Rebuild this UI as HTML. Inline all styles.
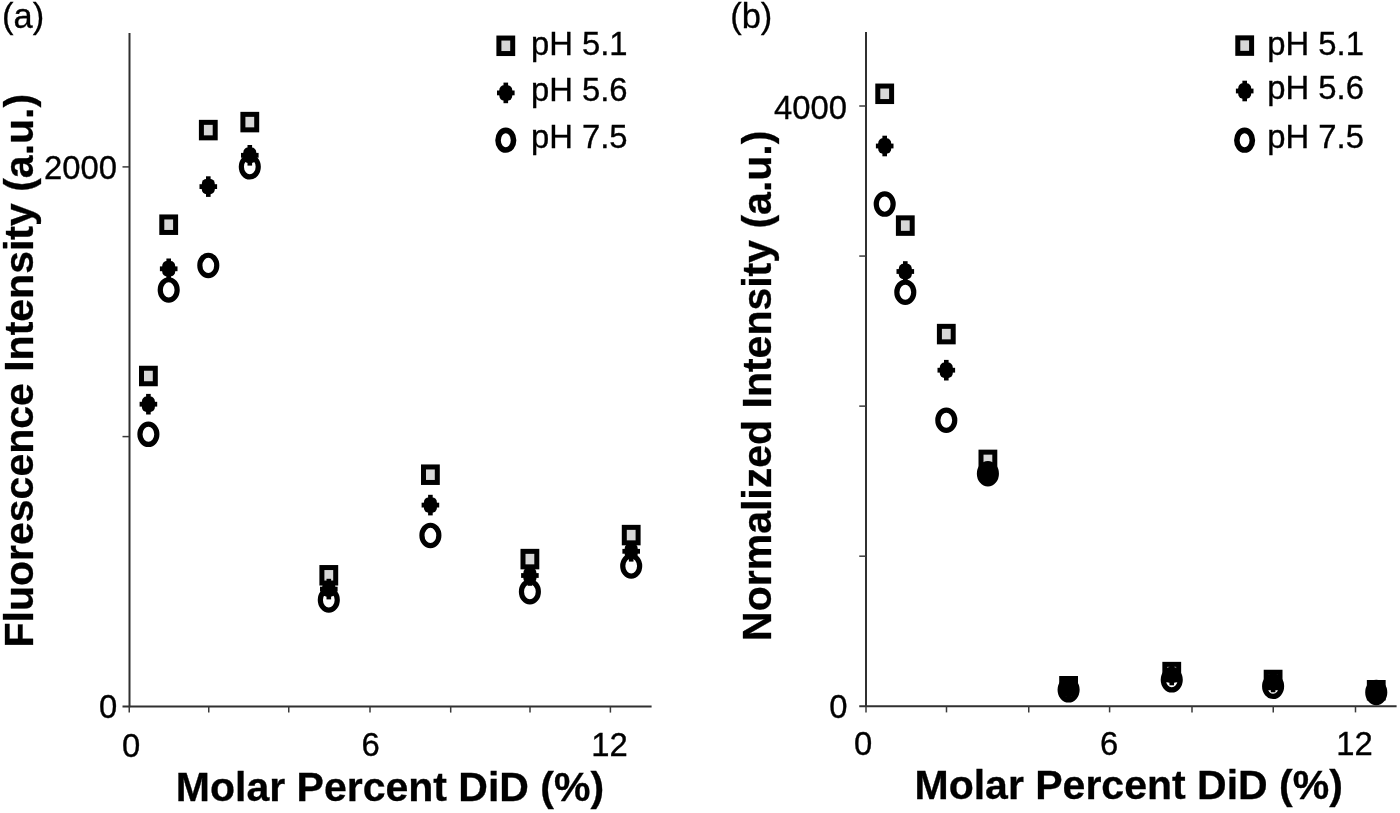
<!DOCTYPE html>
<html lang="en">
<head>
<meta charset="utf-8">
<title>Fluorescence intensity vs molar percent DiD</title>
<style>
html,body{margin:0;padding:0;background:#fff;}
body{width:1400px;height:813px;overflow:hidden;}
svg{display:block;}
text{font-family:'Liberation Sans',Arial,Helvetica,sans-serif;fill:#000;}
.t{font-size:32.8px;stroke:#000;stroke-width:0.35px;}
.n{letter-spacing:0;}
.l{word-spacing:0;}
.p{font-size:34.5px;stroke:#000;stroke-width:0.3px;}
.b{font-size:41px;font-weight:bold;stroke:#000;stroke-width:0.3px;}
.ax line{stroke:#303030;stroke-width:2;}
.ax line.k{stroke:#3a3a3a;stroke-width:1.5;}
</style>
</head>
<body>
<svg width="1400" height="813" viewBox="0 0 1400 813">
<rect width="1400" height="813" fill="#fff"/>

<g class="ax">
<line x1="129.50" y1="33.00" x2="129.50" y2="707.25"/>
<line x1="122.50" y1="706.50" x2="651.60" y2="706.50"/>
<line class="k" x1="122.50" y1="166.90" x2="129.00" y2="166.90"/>
<line class="k" x1="122.50" y1="436.60" x2="129.00" y2="436.60"/>
<line class="k" x1="129.25" y1="706.50" x2="129.25" y2="712.60"/>
<line class="k" x1="208.75" y1="706.50" x2="208.75" y2="712.60"/>
<line class="k" x1="288.75" y1="706.50" x2="288.75" y2="712.60"/>
<line class="k" x1="370.00" y1="706.50" x2="370.00" y2="712.60"/>
<line class="k" x1="450.70" y1="706.50" x2="450.70" y2="712.60"/>
<line class="k" x1="530.00" y1="706.50" x2="530.00" y2="712.60"/>
<line class="k" x1="610.40" y1="706.50" x2="610.40" y2="712.60"/>
</g>
<rect x="141.50" y="368.25" width="13.8" height="15.5" fill="#d8d8d8" stroke="#000" stroke-width="5"/>
<rect x="161.80" y="216.95" width="13.8" height="15.5" fill="#d8d8d8" stroke="#000" stroke-width="5"/>
<rect x="201.40" y="122.35" width="13.8" height="15.5" fill="#d8d8d8" stroke="#000" stroke-width="5"/>
<rect x="242.90" y="114.35" width="13.8" height="15.5" fill="#d8d8d8" stroke="#000" stroke-width="5"/>
<rect x="321.90" y="567.55" width="13.8" height="15.5" fill="#d8d8d8" stroke="#000" stroke-width="5"/>
<rect x="423.50" y="466.95" width="13.8" height="15.5" fill="#d8d8d8" stroke="#000" stroke-width="5"/>
<rect x="523.00" y="551.35" width="13.8" height="15.5" fill="#d8d8d8" stroke="#000" stroke-width="5"/>
<rect x="624.30" y="527.35" width="13.8" height="15.5" fill="#d8d8d8" stroke="#000" stroke-width="5"/>
<g fill="#000"><rect x="146.10" y="393.90" width="4.6" height="20.6"/><rect x="139.60" y="401.80" width="17.6" height="4.8"/><rect x="141.90" y="396.50" width="13" height="15.4" rx="4.6" ry="5"/></g>
<g fill="#000"><rect x="166.40" y="258.50" width="4.6" height="20.6"/><rect x="159.90" y="266.40" width="17.6" height="4.8"/><rect x="162.20" y="261.10" width="13" height="15.4" rx="4.6" ry="5"/></g>
<g fill="#000"><rect x="206.00" y="176.30" width="4.6" height="20.6"/><rect x="199.50" y="184.20" width="17.6" height="4.8"/><rect x="201.80" y="178.90" width="13" height="15.4" rx="4.6" ry="5"/></g>
<g fill="#000"><rect x="247.50" y="145.00" width="4.6" height="20.6"/><rect x="241.00" y="152.90" width="17.6" height="4.8"/><rect x="243.30" y="147.60" width="13" height="15.4" rx="4.6" ry="5"/></g>
<g fill="#000"><rect x="326.50" y="578.80" width="4.6" height="20.6"/><rect x="320.00" y="586.70" width="17.6" height="4.8"/><rect x="322.30" y="581.40" width="13" height="15.4" rx="4.6" ry="5"/></g>
<g fill="#000"><rect x="428.10" y="494.80" width="4.6" height="20.6"/><rect x="421.60" y="502.70" width="17.6" height="4.8"/><rect x="423.90" y="497.40" width="13" height="15.4" rx="4.6" ry="5"/></g>
<g fill="#000"><rect x="527.60" y="565.20" width="4.6" height="20.6"/><rect x="521.10" y="573.10" width="17.6" height="4.8"/><rect x="523.40" y="567.80" width="13" height="15.4" rx="4.6" ry="5"/></g>
<g fill="#000"><rect x="628.90" y="541.00" width="4.6" height="20.6"/><rect x="622.40" y="548.90" width="17.6" height="4.8"/><rect x="624.70" y="543.60" width="13" height="15.4" rx="4.6" ry="5"/></g>
<ellipse cx="148.40" cy="434.30" rx="8.45" ry="10.15" fill="none" stroke="#000" stroke-width="5.2"/>
<ellipse cx="168.70" cy="289.90" rx="8.45" ry="10.15" fill="none" stroke="#000" stroke-width="5.2"/>
<ellipse cx="208.30" cy="265.40" rx="8.45" ry="10.15" fill="none" stroke="#000" stroke-width="5.2"/>
<ellipse cx="249.80" cy="166.80" rx="8.45" ry="10.15" fill="none" stroke="#000" stroke-width="5.2"/>
<ellipse cx="328.80" cy="599.90" rx="8.45" ry="10.15" fill="none" stroke="#000" stroke-width="5.2"/>
<ellipse cx="430.40" cy="535.40" rx="8.45" ry="10.15" fill="none" stroke="#000" stroke-width="5.2"/>
<ellipse cx="529.90" cy="591.70" rx="8.45" ry="10.15" fill="none" stroke="#000" stroke-width="5.2"/>
<ellipse cx="631.20" cy="566.00" rx="8.45" ry="10.15" fill="none" stroke="#000" stroke-width="5.2"/>
<text class="p" x="2.1" y="28.2">(a)</text>
<text class="t n" x="44.1" y="179.3">2000</text>
<text class="t" x="117.3" y="718" text-anchor="end">0</text>
<text class="t" x="131" y="756.5" text-anchor="middle">0</text>
<text class="t" x="370.5" y="756" text-anchor="middle">6</text>
<text class="t" x="609.6" y="756" text-anchor="middle">12</text>
<text class="b" x="175.8" y="801.2">Molar Percent DiD (%)</text>
<text class="b" transform="translate(32.8 647.5) rotate(-90)">Fluorescence Intensity (a.u.)</text>
<rect x="498.90" y="38.05" width="13.8" height="15.5" fill="#d8d8d8" stroke="#000" stroke-width="5"/>
<g fill="#000"><rect x="503.50" y="82.60" width="4.6" height="20.6"/><rect x="497.00" y="90.50" width="17.6" height="4.8"/><rect x="499.30" y="85.20" width="13" height="15.4" rx="4.6" ry="5"/></g>
<ellipse cx="505.80" cy="140.20" rx="7.75" ry="9.85" fill="none" stroke="#000" stroke-width="5.6"/>
<text class="t l" x="530.9" y="54.8">pH 5.1</text>
<text class="t l" x="530.9" y="101.0">pH 5.6</text>
<text class="t l" x="530.9" y="147.8">pH 7.5</text>
<g class="ax">
<line x1="866.00" y1="32.00" x2="866.00" y2="707.00"/>
<line x1="859.25" y1="706.25" x2="1396.60" y2="706.25"/>
<line class="k" x1="859.25" y1="556.19" x2="866.00" y2="556.19"/>
<line class="k" x1="859.25" y1="406.13" x2="866.00" y2="406.13"/>
<line class="k" x1="859.25" y1="256.07" x2="866.00" y2="256.07"/>
<line class="k" x1="859.25" y1="106.01" x2="866.00" y2="106.01"/>
<line class="k" x1="866.00" y1="706.25" x2="866.00" y2="712.40"/>
<line class="k" x1="946.50" y1="706.25" x2="946.50" y2="712.40"/>
<line class="k" x1="1028.75" y1="706.25" x2="1028.75" y2="712.40"/>
<line class="k" x1="1109.60" y1="706.25" x2="1109.60" y2="712.40"/>
<line class="k" x1="1192.00" y1="706.25" x2="1192.00" y2="712.40"/>
<line class="k" x1="1273.25" y1="706.25" x2="1273.25" y2="712.40"/>
<line class="k" x1="1355.50" y1="706.25" x2="1355.50" y2="712.40"/>
</g>
<rect x="877.80" y="86.05" width="13.8" height="15.5" fill="#d8d8d8" stroke="#000" stroke-width="5"/>
<rect x="898.40" y="217.85" width="13.8" height="15.5" fill="#d8d8d8" stroke="#000" stroke-width="5"/>
<rect x="939.40" y="326.35" width="13.8" height="15.5" fill="#d8d8d8" stroke="#000" stroke-width="5"/>
<rect x="981.00" y="452.15" width="13.8" height="15.5" fill="#d8d8d8" stroke="#000" stroke-width="5"/>
<rect x="1061.70" y="678.50" width="13.8" height="15.5" fill="#d8d8d8" stroke="#000" stroke-width="5"/>
<rect x="1164.85" y="664.35" width="13.8" height="15.5" fill="#d8d8d8" stroke="#000" stroke-width="5"/>
<rect x="1266.20" y="672.25" width="13.8" height="15.5" fill="#d8d8d8" stroke="#000" stroke-width="5"/>
<rect x="1369.35" y="682.50" width="13.8" height="15.5" fill="#d8d8d8" stroke="#000" stroke-width="5"/>
<g fill="#000"><rect x="882.40" y="135.70" width="4.6" height="20.6"/><rect x="875.90" y="143.60" width="17.6" height="4.8"/><rect x="878.20" y="138.30" width="13" height="15.4" rx="4.6" ry="5"/></g>
<g fill="#000"><rect x="903.00" y="261.20" width="4.6" height="20.6"/><rect x="896.50" y="269.10" width="17.6" height="4.8"/><rect x="898.80" y="263.80" width="13" height="15.4" rx="4.6" ry="5"/></g>
<g fill="#000"><rect x="944.00" y="359.90" width="4.6" height="20.6"/><rect x="937.50" y="367.80" width="17.6" height="4.8"/><rect x="939.80" y="362.50" width="13" height="15.4" rx="4.6" ry="5"/></g>
<g fill="#000"><rect x="985.60" y="463.70" width="4.6" height="20.6"/><rect x="979.10" y="471.60" width="17.6" height="4.8"/><rect x="981.40" y="466.30" width="13" height="15.4" rx="4.6" ry="5"/></g>
<g fill="#000"><rect x="1066.30" y="678.70" width="4.6" height="20.6"/><rect x="1059.80" y="686.60" width="17.6" height="4.8"/><rect x="1062.10" y="681.30" width="13" height="15.4" rx="4.6" ry="5"/></g>
<g fill="#000"><rect x="1169.45" y="664.70" width="4.6" height="20.6"/><rect x="1162.95" y="672.60" width="17.6" height="4.8"/><rect x="1165.25" y="667.30" width="13" height="15.4" rx="4.6" ry="5"/></g>
<g fill="#000"><rect x="1270.80" y="671.70" width="4.6" height="20.6"/><rect x="1264.30" y="679.60" width="17.6" height="4.8"/><rect x="1266.60" y="674.30" width="13" height="15.4" rx="4.6" ry="5"/></g>
<g fill="#000"><rect x="1373.95" y="681.00" width="4.6" height="20.6"/><rect x="1367.45" y="688.90" width="17.6" height="4.8"/><rect x="1369.75" y="683.60" width="13" height="15.4" rx="4.6" ry="5"/></g>
<ellipse cx="884.70" cy="204.10" rx="8.45" ry="10.15" fill="none" stroke="#000" stroke-width="5.2"/>
<ellipse cx="905.30" cy="292.20" rx="8.45" ry="10.15" fill="none" stroke="#000" stroke-width="5.2"/>
<ellipse cx="946.30" cy="420.20" rx="8.45" ry="10.15" fill="none" stroke="#000" stroke-width="5.2"/>
<ellipse cx="987.90" cy="473.70" rx="8.45" ry="10.15" fill="none" stroke="#000" stroke-width="5.2"/>
<ellipse cx="1068.60" cy="689.80" rx="8.45" ry="10.15" fill="none" stroke="#000" stroke-width="5.2"/>
<ellipse cx="1171.75" cy="679.80" rx="8.45" ry="10.15" fill="none" stroke="#000" stroke-width="5.2"/>
<ellipse cx="1273.10" cy="686.30" rx="8.45" ry="10.15" fill="none" stroke="#000" stroke-width="5.2"/>
<ellipse cx="1376.25" cy="692.40" rx="8.45" ry="10.15" fill="none" stroke="#000" stroke-width="5.2"/>
<text class="p" x="730.2" y="28">(b)</text>
<text class="t n" x="774.0" y="119.0">4000</text>
<text class="t" x="847.5" y="717.8" text-anchor="end">0</text>
<text class="t" x="863.2" y="755" text-anchor="middle">0</text>
<text class="t" x="1109.1" y="754.7" text-anchor="middle">6</text>
<text class="t" x="1354.6" y="754.7" text-anchor="middle">12</text>
<text class="b" x="914.5" y="799.2">Molar Percent DiD (%)</text>
<text class="b" transform="translate(770.9 640.9) rotate(-90)">Normalized Intensity (a.u.)</text>
<rect x="1237.80" y="37.85" width="13.8" height="15.5" fill="#d8d8d8" stroke="#000" stroke-width="5"/>
<g fill="#000"><rect x="1242.40" y="80.70" width="4.6" height="20.6"/><rect x="1235.90" y="88.60" width="17.6" height="4.8"/><rect x="1238.20" y="83.30" width="13" height="15.4" rx="4.6" ry="5"/></g>
<ellipse cx="1244.60" cy="140.20" rx="7.75" ry="9.85" fill="none" stroke="#000" stroke-width="5.6"/>
<text class="t l" x="1267.3" y="54.7">pH 5.1</text>
<text class="t l" x="1267.3" y="99.3">pH 5.6</text>
<text class="t l" x="1267.3" y="148.2">pH 7.5</text>
</svg>
</body>
</html>
